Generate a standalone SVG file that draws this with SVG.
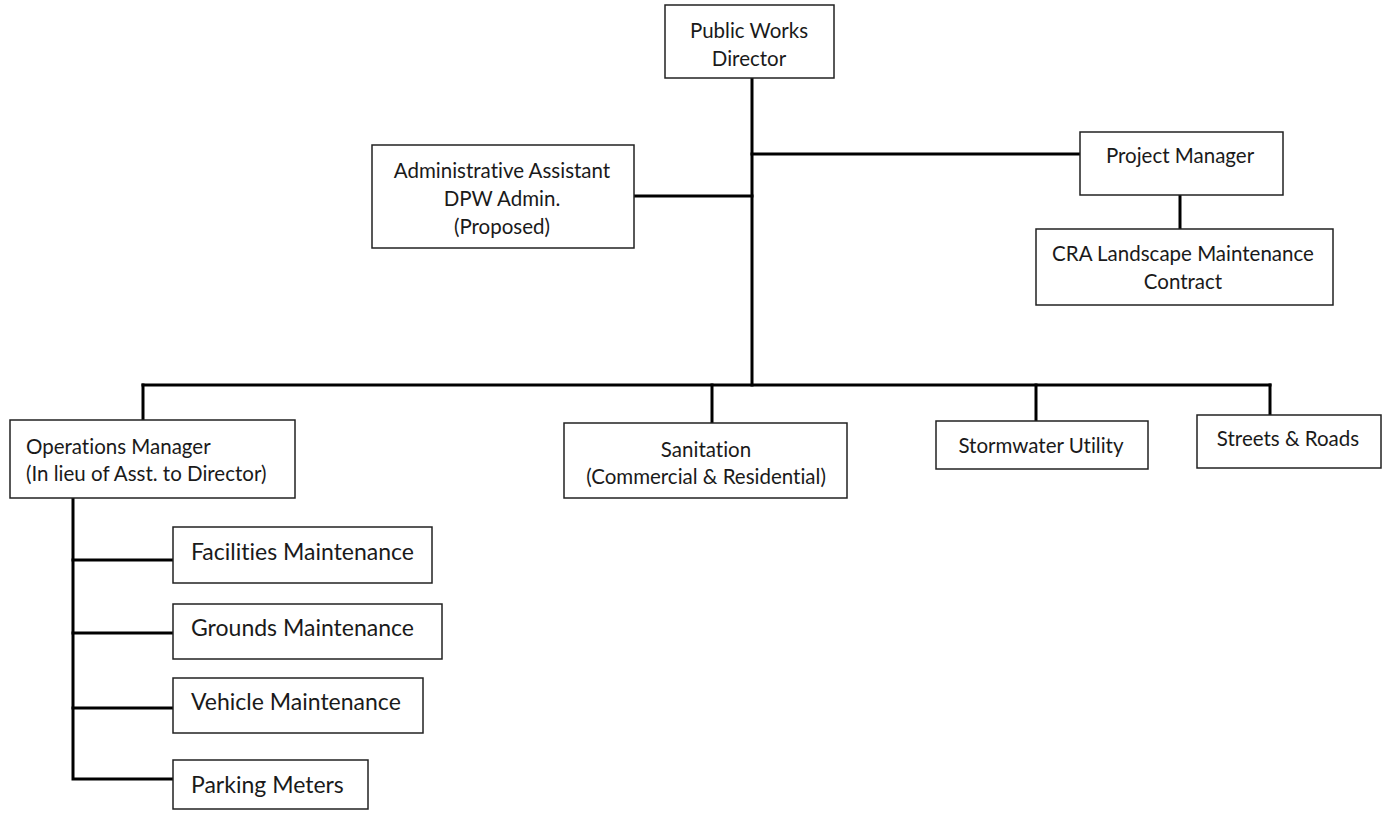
<svg xmlns="http://www.w3.org/2000/svg" width="1384" height="817" viewBox="0 0 1384 817">
<style>
.box{fill:#fff;stroke:#222;stroke-width:1.5}
.t{font-family:Lato,"Liberation Sans",sans-serif;font-size:20.5px;fill:#1a1a1a;dominant-baseline:central;font-variant-ligatures:none}
.c{text-anchor:middle}
.l{font-size:23px}
.ln{stroke:#000;stroke-width:3;fill:none;stroke-linecap:square}
</style>
<rect width="1384" height="817" fill="#fff"/>
<g id="connectors">
<path class="ln" d="M752,78 V385"/>
<path class="ln" d="M752,154 H1080"/>
<path class="ln" d="M634,196 H752"/>
<path class="ln" d="M1180,195 V229"/>
<path class="ln" d="M143,385 H1270"/>
<path class="ln" d="M143,385 V420"/>
<path class="ln" d="M712,385 V423"/>
<path class="ln" d="M1036,385 V421"/>
<path class="ln" d="M1270,385 V415"/>
<path class="ln" d="M73,498 V779 H173"/>
<path class="ln" d="M73,560 H173"/>
<path class="ln" d="M73,633 H173"/>
<path class="ln" d="M73,708 H173"/>
</g>
<g id="director"><rect class="box" x="665" y="5" width="169" height="73"/>
<text class="t c" x="749" y="30">Public Works</text><text class="t c" x="749" y="58">Director</text></g>
<g id="admin"><rect class="box" x="372" y="145" width="262" height="103"/>
<text class="t c" x="502" y="170">Administrative Assistant</text><text class="t c" x="502" y="198">DPW Admin.</text><text class="t c" x="502" y="226">(Proposed)</text></g>
<g id="project-manager"><rect class="box" x="1080" y="132" width="203" height="63"/>
<text class="t c" x="1180" y="155">Project Manager</text></g>
<g id="cra"><rect class="box" x="1036" y="229" width="297" height="76"/>
<text class="t c" x="1183" y="253">CRA Landscape Maintenance</text><text class="t c" x="1183" y="281">Contract</text></g>
<g id="operations"><rect class="box" x="10" y="420" width="285" height="78"/>
<text class="t" x="26" y="446">Operations Manager</text><text class="t" x="26" y="473">(In lieu of Asst. to Director)</text></g>
<g id="sanitation"><rect class="box" x="564" y="423" width="283" height="75"/>
<text class="t c" x="706" y="449">Sanitation</text><text class="t c" x="706" y="476">(Commercial &amp; Residential)</text></g>
<g id="stormwater"><rect class="box" x="936" y="421" width="212" height="48"/>
<text class="t c" x="1041" y="445">Stormwater Utility</text></g>
<g id="streets"><rect class="box" x="1197" y="415" width="184" height="53"/>
<text class="t c" x="1288" y="438">Streets &amp; Roads</text></g>
<g id="facilities"><rect class="box" x="173" y="527" width="259" height="56"/>
<text class="t l" x="191" y="551">Facilities Maintenance</text></g>
<g id="grounds"><rect class="box" x="173" y="604" width="269" height="55"/>
<text class="t l" x="191" y="627">Grounds Maintenance</text></g>
<g id="vehicle"><rect class="box" x="173" y="678" width="250" height="55"/>
<text class="t l" x="191" y="701">Vehicle Maintenance</text></g>
<g id="parking"><rect class="box" x="173" y="760" width="195" height="49"/>
<text class="t l" x="191" y="784">Parking Meters</text></g>
</svg>
